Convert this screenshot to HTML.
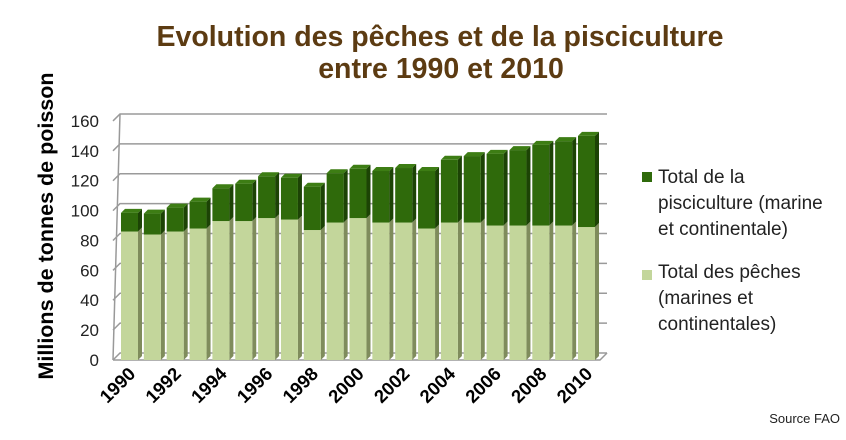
<!DOCTYPE html>
<html><head><meta charset="utf-8"><style>
body{margin:0;background:#fff;width:846px;height:435px;overflow:hidden;font-family:"Liberation Sans",sans-serif}
</style></head><body>
<svg id="chart" width="846" height="435" xmlns="http://www.w3.org/2000/svg">
<text x="440" y="46" text-anchor="middle" font-size="28.5" font-weight="bold" fill="#5c3b12">Evolution des pêches et de la pisciculture</text>
<text x="441" y="78" text-anchor="middle" font-size="28.5" font-weight="bold" fill="#5c3b12">entre 1990 et 2010</text>
<text transform="translate(53,226) rotate(-90)" text-anchor="middle" font-size="21.5" font-weight="bold" fill="#000">Millions  de tonnes de poisson</text>
<g id="grid"></g><g id="bars"></g><g id="xlabels"></g><g id="ylabels"></g>
<g font-size="19" fill="#222">
<rect x="642" y="172" width="10" height="10" fill="#2f6a0b"/>
<text x="658" y="183">Total de la<tspan x="658" dy="26">pisciculture (marine</tspan><tspan x="658" dy="26">et continentale)</tspan></text>
<rect x="642" y="270" width="10" height="10" fill="#c3d69b"/>
<text x="658" y="278">Total des pêches<tspan x="658" dy="26">(marines et</tspan><tspan x="658" dy="26">continentales)</tspan></text>
</g>
<text x="840" y="423" text-anchor="end" font-size="13" fill="#222">Source FAO</text>
</svg>
<script>
const years=[1990,1991,1992,1993,1994,1995,1996,1997,1998,1999,2000,2001,2002,2003,2004,2005,2006,2007,2008,2009,2010];
const peches=[86,84,86,88,93,93,95,94,87,92,95,92,92,88,92,92,90,90,90,90,89];
const totals=[98.5,98,102,106,115,118,123,122,116,125,128,126.5,128.5,126.5,134,136.5,138,140.5,144,146.5,150];
const yTicks=[0,20,40,60,80,100,120,140,160];
const NS='http://www.w3.org/2000/svg';
const y0=360,k=1.494,dx=7,dy=7,x0=121,step=22.85,bw=17;
const Y=v=>y0-v*k, X=i=>x0+i*step;
function mk(t,a,p){const e=document.createElementNS(NS,t);for(const n in a)e.setAttribute(n,a[n]);p.appendChild(e);return e;}
const grid=document.getElementById('grid');
mk('path',{d:`M113,${y0} L${113+dx},${Y(160)-dy} M113,${y0} L600,${y0} L${600+dx},${y0-dy}`,stroke:'#999',fill:'none','stroke-width':1.5},grid);
yTicks.forEach(v=>{
 const l=mk('path',{d:`M113,${Y(v)} L${113+dx},${Y(v)-dy} L${600+dx},${Y(v)-dy}`,stroke:'#9a9a9a',fill:'none','stroke-width':1.5},grid);
 
 const t=mk('text',{x:99,y:Y(v)+6,'text-anchor':'end','font-size':17,fill:'#222'},document.getElementById('ylabels'));
 t.textContent=v;
});
const bars=document.getElementById('bars');
years.forEach((yr,i)=>{
 const x=X(i),d=4;
 const g=mk('g',{},bars);
 const p=peches[i],t=totals[i];
 mk('polygon',{points:`${x+bw},${Y(0)} ${x+bw+d},${Y(0)-d} ${x+bw+d},${Y(p)-d} ${x+bw},${Y(p)}`,fill:'#7f8c5c'},g);
 mk('rect',{x:x,y:Y(p),width:bw,height:Y(0)-Y(p),fill:'#c3d69b'},g);
 mk('polygon',{points:`${x+bw},${Y(p)} ${x+bw+d},${Y(p)-d} ${x+bw+d},${Y(t)-d} ${x+bw},${Y(t)}`,fill:'#1c4305'},g);
 mk('rect',{x:x,y:Y(t),width:bw,height:Y(p)-Y(t),fill:'#2f6a0b'},g);
 mk('polygon',{points:`${x},${Y(t)} ${x+d},${Y(t)-d} ${x+bw+d},${Y(t)-d} ${x+bw},${Y(t)}`,fill:'#3d7d14'},g);
 if(i%2===0){
  const cx=x+bw/2+7,cy=375;
  const tx=mk('text',{x:cx,y:cy,'text-anchor':'end','font-size':18.5,'font-weight':'bold',fill:'#000',transform:`rotate(-45 ${cx} ${cy})`},document.getElementById('xlabels'));
  tx.textContent=yr;
 }
});
</script>
</body></html>
